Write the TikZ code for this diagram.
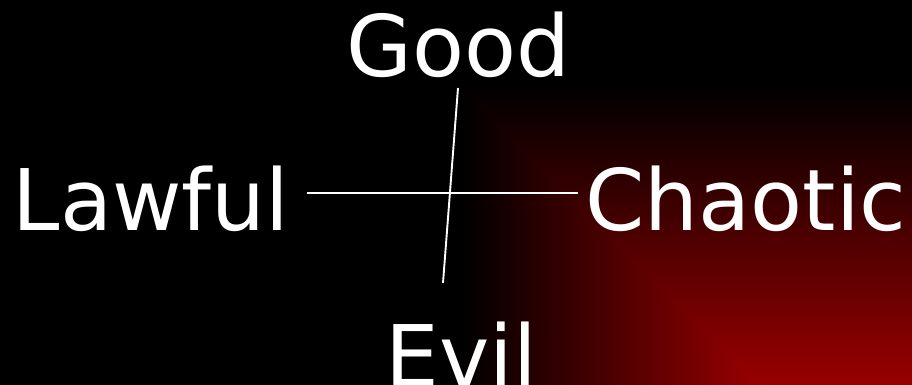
\documentclass[tikz,border=0pt]{standalone}
\usepackage{fontspec}
\setmainfont{DejaVu Sans}
\usepackage{xcolor}
\usepackage{tikz}
\usetikzlibrary{positioning}
\definecolor{bgred}{RGB}{153,0,0}
\definecolor{axiswhite}{HTML}{FFFFFF}

\begin{document}
\begin{tikzpicture}[
  x=1pt, y=-1pt,
  every node/.style={font=\fontsize{85}{96}\selectfont, text=white, inner sep=0pt, anchor=base},
  axis/.style={draw=axiswhite, line width=1.9pt},
]
  %% Background: black with red corner glow (bottom right)
  \useasboundingbox (0,0) rectangle (912,385);
  \fill[black] (0,0) rectangle (912,385);
  \begin{scope}
    \clip (0,0) rectangle (912,385);
    \foreach \r in {452,450,...,152} {
      \pgfmathsetmacro{\shade}{(452-\r)/3}
      \fill[bgred!\shade!black] (912-\r,537-\r) rectangle (912,385);
    }
  \end{scope}

  %% Labels
  \node (good) at (458.5,77) {Good};
  \node (lawful) at (151,230) {Lawful};
  \node (chaotic) at (746,230) {Chaotic};
  \node (evil) at (461,386) {Evil};

  %% Axis ends
  \coordinate (west) at (307,193);
  \coordinate (east) at (578,193);
  \coordinate (north) at (458,88);
  \coordinate (south) at (443,283);

  %% Axes
  \draw[axis] (west) -- (east);
  \draw[axis] (north) -- (south);
\end{tikzpicture}
\end{document}
